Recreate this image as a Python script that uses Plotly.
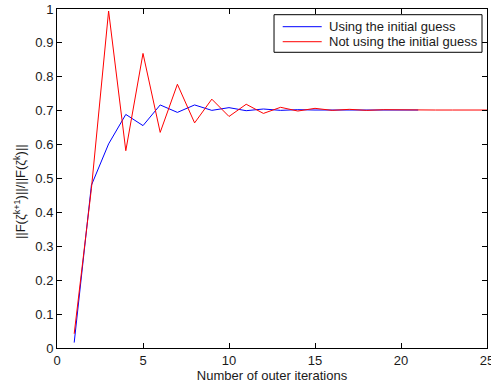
import plotly.graph_objects as go

# Outer iteration index and residual ratio per iteration
iters_with_guess = list(range(1, 22))
ratio_with_guess = [0.016, 0.480, 0.602, 0.689, 0.656, 0.717, 0.695, 0.717, 0.701, 0.709,
                    0.700, 0.705, 0.701, 0.703, 0.702, 0.702, 0.702, 0.702, 0.702, 0.702, 0.702]

iters_without_guess = list(range(1, 26))
ratio_without_guess = [0.042, 0.470, 0.994, 0.582, 0.869, 0.636, 0.778, 0.664, 0.734, 0.683,
                       0.719, 0.692, 0.710, 0.699, 0.707, 0.701, 0.704, 0.701, 0.703, 0.702,
                       0.702, 0.702, 0.702, 0.702, 0.702]

series_names = ["Using the initial guess", "Not using the initial guess"]
series_colors = ["#0000ff", "#ff0000"]
y_title = "||F(ζ<sup>k+1</sup>)||/||F(ζ<sup>k</sup>)||"
x_title = "Number of outer iterations"

FONT = "Liberation Sans, Arial"
TEXT = "#1a1a1a"

fig = go.Figure()
for xs, ys, name, color in [(iters_with_guess, ratio_with_guess, series_names[0], series_colors[0]),
                            (iters_without_guess, ratio_without_guess, series_names[1], series_colors[1])]:
    fig.add_trace(go.Scatter(x=xs, y=ys, mode="lines", name=name, showlegend=False,
                             line=dict(color=color, width=1)))

axis_common = dict(
    showgrid=False, zeroline=False, showline=True, linecolor="black", linewidth=1,
    mirror="ticks", ticks="inside", ticklen=5, tickcolor="black", automargin=False,
    tickfont=dict(family=FONT, size=13, color=TEXT),
    ticklabeloverflow="allow",
)

# Boxed legend in the top-right corner of the axes (paper coordinates)
box_x0, box_x1, box_y0, box_y1 = 0.5047, 0.9884, 0.8723, 0.9832
swatch_x0, swatch_x1, label_x = 0.5249, 0.6156, 0.6279
row_y = [0.9478, 0.9035]

shapes = [dict(type="rect", xref="paper", yref="paper", x0=box_x0, x1=box_x1, y0=box_y0, y1=box_y1,
               line=dict(color="black", width=1), fillcolor="white", layer="above")]
annotations = []
for name, color, yy in zip(series_names, series_colors, row_y):
    shapes.append(dict(type="line", xref="paper", yref="paper", x0=swatch_x0, x1=swatch_x1,
                       y0=yy, y1=yy, line=dict(color=color, width=1), layer="above"))
    annotations.append(dict(text=name, xref="paper", yref="paper", x=label_x, y=yy,
                            xanchor="left", yanchor="middle", showarrow=False,
                            font=dict(size=13, color=TEXT)))

annotations.append(dict(text=y_title, textangle=-90, xref="paper", yref="paper",
                        x=-0.086, y=0.46, xanchor="center", yanchor="middle",
                        showarrow=False, font=dict(size=13, color=TEXT)))

fig.update_layout(
    template="none",
    width=491, height=387,
    margin=dict(l=57, r=4, t=9, b=39),
    plot_bgcolor="white", paper_bgcolor="white",
    font=dict(family=FONT, size=13, color=TEXT),
    xaxis=dict(range=[0, 25], dtick=5, tick0=0,
               title=dict(text=x_title, standoff=1, font=dict(size=13)), **axis_common),
    yaxis=dict(range=[0, 1], dtick=0.1, tick0=0, **axis_common),
    showlegend=False,
    shapes=shapes,
    annotations=annotations,
)

fig.write_html("out.html")
